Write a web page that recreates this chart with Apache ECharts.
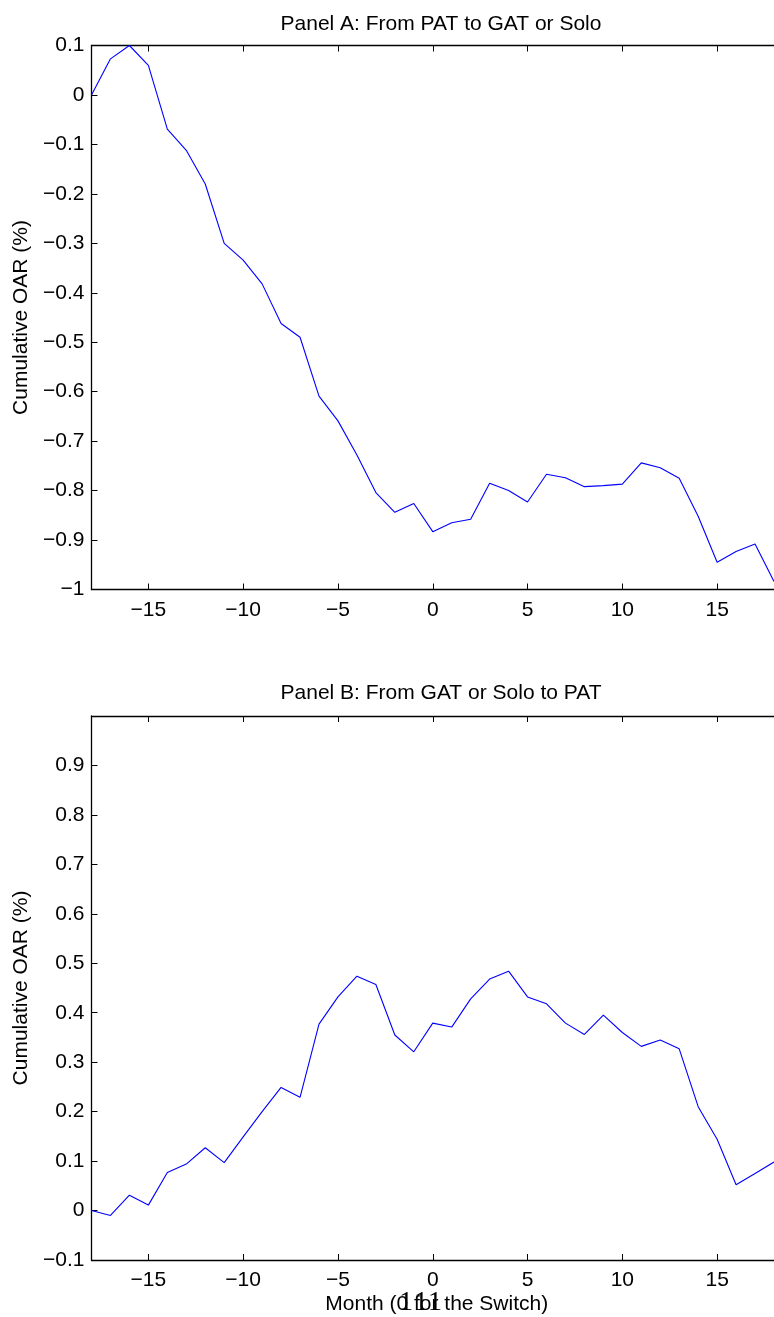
<!DOCTYPE html>
<html>
<head>
<meta charset="utf-8">
<script src="https://cdn.jsdelivr.net/npm/echarts@6/dist/echarts.min.js"></script>
<style>
html, body { margin: 0; padding: 0; background: #fff; }
#chart { width: 774px; height: 1317px; }
</style>
</head>
<body>
<div id="chart"></div>
<script>
// months relative to the switch
var months = [-18, -17, -16, -15, -14, -13, -12, -11, -10, -9, -8, -7, -6, -5, -4, -3, -2, -1,
    0, 1, 2, 3, 4, 5, 6, 7, 8, 9, 10, 11, 12, 13, 14, 15, 16, 17, 18];
// Panel A: From PAT to GAT or Solo
var panelA = [0.000, 0.073, 0.100, 0.060, -0.069, -0.112, -0.180, -0.300, -0.334, -0.382, -0.462, -0.490,
    -0.609, -0.659, -0.728, -0.804, -0.844, -0.826, -0.883, -0.865, -0.858, -0.785, -0.800, -0.823,
    -0.767, -0.774, -0.792, -0.790, -0.787, -0.744, -0.754, -0.775, -0.852, -0.945, -0.923, -0.908, -0.984];
// Panel B: From GAT or Solo to PAT
var panelB = [0.000, -0.010, 0.031, 0.011, 0.077, 0.094, 0.127, 0.097, 0.149, 0.200, 0.249, 0.229,
    0.377, 0.432, 0.474, 0.457, 0.355, 0.321, 0.379, 0.371, 0.428, 0.468, 0.484, 0.432,
    0.418, 0.379, 0.356, 0.395, 0.360, 0.332, 0.345, 0.327, 0.210, 0.144, 0.052, 0.075, 0.098];
var xTicks = [-15, -10, -5, 0, 5, 10, 15];
var titles = ["Panel A: From PAT to GAT or Solo", "Panel B: From GAT or Solo to PAT"];

var FONT = "Liberation Sans, Arial, Helvetica, sans-serif";
var FS = 21;

function fmt(v) {
    var s = String(+(+v).toFixed(1));
    return s.replace("-", "\u2212");
}
function pairs(ys) {
    return months.map(function (m, i) { return [m, ys[i]]; });
}

var chart = echarts.init(document.getElementById("chart"), null, { renderer: "canvas" });

var lineAxis = { show: true, onZero: false, lineStyle: { color: "#000", width: 1.3 } };
var tick = { show: true, inside: true, length: 6, customValues: xTicks, lineStyle: { color: "#000", width: 1 } };

function bottomX(gi, withName) {
    var ax = {
        type: "value", gridIndex: gi, position: "bottom", min: -18, max: 18,
        axisLine: lineAxis, axisTick: tick, splitLine: { show: false },
        axisLabel: { customValues: xTicks, formatter: fmt, margin: 10, color: "#000", fontSize: FS, fontFamily: FONT }
    };
    if (withName) {
        ax.name = "Month (0 for the Switch)";
        ax.nameLocation = "middle";
        ax.nameGap = 34;
        ax.nameTextStyle = { color: "#000", fontSize: FS, fontFamily: FONT, padding: [0, 0, 0, 8] };
    }
    return ax;
}
function topX(gi) {
    return {
        type: "value", gridIndex: gi, position: "top", min: -18, max: 18,
        axisLine: lineAxis, axisTick: tick, axisLabel: { show: false }, splitLine: { show: false }
    };
}
function leftY(gi, min, max, showMax) {
    return {
        type: "value", gridIndex: gi, min: min, max: max, interval: 0.1,
        name: "Cumulative OAR (%)", nameLocation: "middle", nameRotate: 90, nameGap: 53,
        nameTextStyle: { color: "#000", fontSize: FS, fontFamily: FONT },
        axisLine: lineAxis,
        axisTick: { show: true, inside: true, length: 6, lineStyle: { color: "#000", width: 1 } },
        splitLine: { show: false },
        axisLabel: { formatter: fmt, margin: 7, color: "#000", fontSize: FS, fontFamily: FONT, showMaxLabel: showMax }
    };
}

// stray "1" glyphs printed over the x label in the original
var strayX = [406, 421, 435];

chart.setOption({
    animation: false,
    backgroundColor: "#fff",
    title: [
        { text: titles[0], left: 436, top: 9, textAlign: "center",
          textStyle: { color: "#000", fontSize: FS, fontWeight: "normal", fontFamily: FONT } },
        { text: titles[1], left: 436, top: 678, textAlign: "center",
          textStyle: { color: "#000", fontSize: FS, fontWeight: "normal", fontFamily: FONT } }
    ],
    grid: [
        { left: 91.5, top: 45.5, width: 689, height: 544 },
        { left: 91.5, top: 716, width: 689, height: 544 }
    ],
    xAxis: [bottomX(0, false), topX(0), bottomX(1, true), topX(1)],
    yAxis: [leftY(0, -1, 0.1, true), leftY(1, -0.1, 1, false)],
    graphic: strayX.map(function (x) {
        return { type: "text", x: x, y: 1289,
                 style: { text: "1", fill: "#000", font: "28px Liberation Serif, Times New Roman, serif", textAlign: "center" } };
    }),
    series: [
        { type: "line", xAxisIndex: 0, yAxisIndex: 0, data: pairs(panelA), showSymbol: false,
          lineStyle: { color: "#0000ff", width: 1.1 }, clip: true },
        { type: "line", xAxisIndex: 2, yAxisIndex: 1, data: pairs(panelB), showSymbol: false,
          lineStyle: { color: "#0000ff", width: 1.1 }, clip: true }
    ]
});
</script>
</body>
</html>
